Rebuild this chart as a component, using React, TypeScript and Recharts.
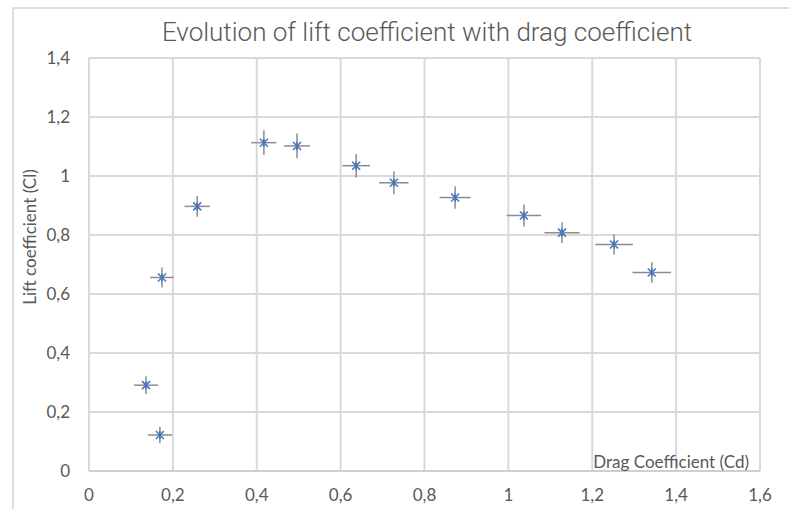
import { ScatterChart, Scatter, XAxis, YAxis, CartesianGrid, ErrorBar } from "recharts";

// values
const dragCd = [0.136, 0.169, 0.174, 0.258, 0.417, 0.496, 0.637, 0.727, 0.873, 1.037, 1.128, 1.252, 1.342];
const liftCl = [0.291, 0.122, 0.656, 0.897, 1.113, 1.102, 1.035, 0.977, 0.927, 0.866, 0.808, 0.768, 0.673];
const dragErr = [0.029, 0.029, 0.028, 0.03, 0.03, 0.031, 0.033, 0.035, 0.037, 0.041, 0.042, 0.045, 0.046];
const liftErr = [0.03, 0.028, 0.034, 0.035, 0.042, 0.042, 0.04, 0.039, 0.038, 0.037, 0.035, 0.034, 0.035];

const xTicks = [0, 0.2, 0.4, 0.6, 0.8, 1, 1.2, 1.4, 1.6];
const yTicks = [0, 0.2, 0.4, 0.6, 0.8, 1, 1.2, 1.4];

const points = dragCd.map((cd, i) => ({ cd, cl: liftCl[i], ex: dragErr[i], ey: liftErr[i] }));

const fmt = (v: number) => String(v).replace(".", ",");
const tickStyle = { fontFamily: "Lato", fontSize: 17, fill: "#595959" };
const labelStyle = { fontFamily: "Lato", fontSize: 17, fill: "#595959" };
const gridColor = "#d9d9d9";

const StarMarker = (props: any) => {
  const { cx, cy } = props;
  const r = 4;
  return (
    <g stroke="#4472C4" strokeWidth={1.5}>
      <line x1={cx - r} y1={cy - r} x2={cx + r} y2={cy + r} />
      <line x1={cx - r} y1={cy + r} x2={cx + r} y2={cy - r} />
      <line x1={cx} y1={cy - r} x2={cx} y2={cy + r} />
    </g>
  );
};

const App = () => {
  return (
    <div style={{ position: "fixed", left: 0, top: 0, width: 789, height: 509, overflow: "hidden", background: "#fff" }}>
      <div
        style={{
          position: "absolute",
          left: 12,
          top: 7,
          width: 820,
          height: 540,
          border: "2px solid #dedede",
        }}
      />
      <div
        style={{
          position: "absolute",
          left: 0,
          top: 17,
          width: 854,
          textAlign: "center",
          fontFamily: "Roboto",
          fontWeight: 300,
          fontSize: 26,
          color: "#595959",
          whiteSpace: "nowrap",
        }}
      >
        Evolution of lift coefficient with drag coefficient
      </div>
      <div style={{ position: "absolute", left: 0, top: 0 }}>
        <ScatterChart width={789} height={509} margin={{ top: 58, right: 29, bottom: 8, left: 29 }}>
          <CartesianGrid stroke={gridColor} strokeWidth={2} />
          <XAxis
            type="number"
            dataKey="cd"
            domain={[0, 1.6]}
            ticks={xTicks}
            tickFormatter={fmt}
            tick={tickStyle}
            tickLine={false}
            tickSize={0}
            tickMargin={18}
            axisLine={{ stroke: "#cfcfcf", strokeWidth: 2 }}
            height={30}
            label={{
              content: () => (
                <text x={749} y={461} textAnchor="end" dominantBaseline="central" style={labelStyle}>
                  Drag Coefficient (Cd)
                </text>
              ),
            }}
          />
          <YAxis
            type="number"
            dataKey="cl"
            domain={[0, 1.4]}
            ticks={yTicks}
            tickFormatter={fmt}
            tick={tickStyle}
            tickLine={false}
            tickSize={0}
            tickMargin={19}
            axisLine={{ stroke: gridColor, strokeWidth: 2 }}
            width={60}
            label={{
              content: () => (
                <text
                  x={29}
                  y={237}
                  transform="rotate(-90 29 237)"
                  textAnchor="middle"
                  dominantBaseline="central"
                  style={labelStyle}
                >
                  Lift coefficient (Cl)
                </text>
              ),
            }}
          />
          <Scatter data={points} shape={StarMarker} isAnimationActive={false}>
            <ErrorBar dataKey="ex" direction="x" width={0} stroke="#8c8c8c" strokeWidth={1.5} />
            <ErrorBar dataKey="ey" direction="y" width={0} stroke="#8c8c8c" strokeWidth={1.5} />
          </Scatter>
        </ScatterChart>
      </div>
    </div>
  );
};

export default App;
